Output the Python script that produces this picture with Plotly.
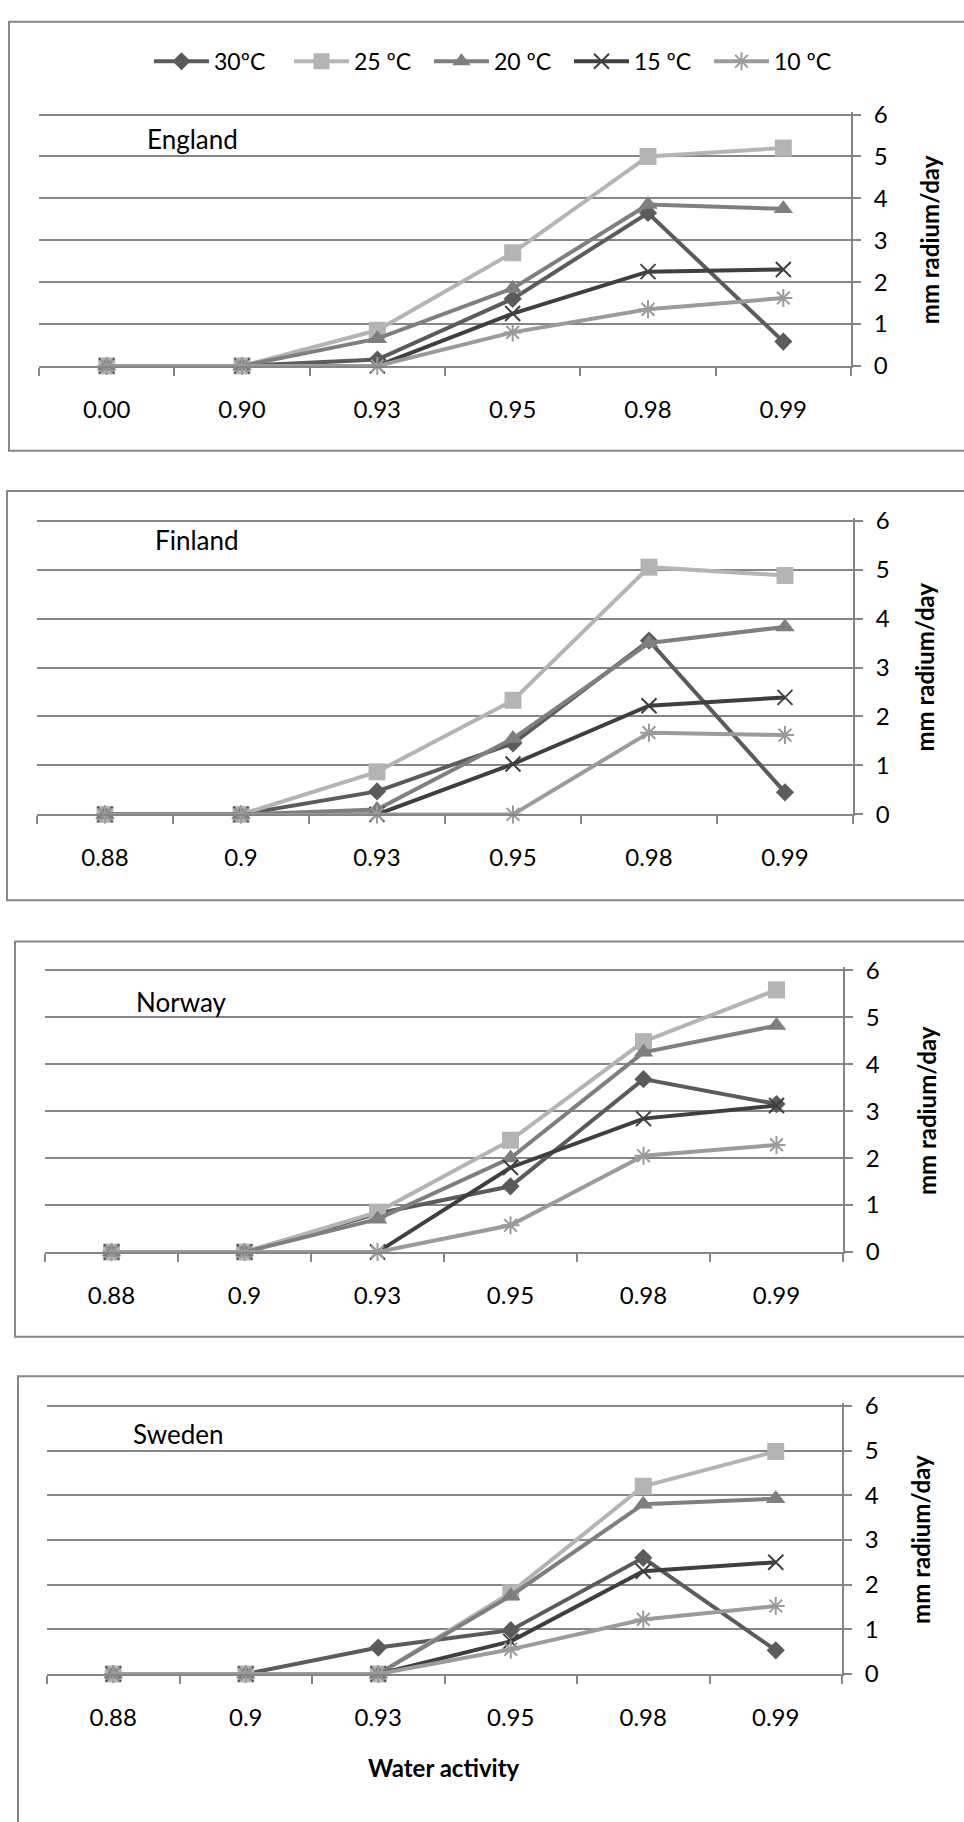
import plotly.graph_objects as go

W, H = 964, 1822

# ---------------- data ----------------
cats_england = ["0.00", "0.90", "0.93", "0.95", "0.98", "0.99"]
cats_other = ["0.88", "0.9", "0.93", "0.95", "0.98", "0.99"]

series_names = ["30ºC", "25 ºC", "20 ºC", "15 ºC", "10 ºC"]
y_ticks = [0, 1, 2, 3, 4, 5, 6]

england_30 = [0, 0, 0.15, 1.6, 3.65, 0.58]
england_25 = [0, 0, 0.85, 2.7, 5.0, 5.2]
england_20 = [0, 0, 0.65, 1.85, 3.85, 3.75]
england_15 = [0, 0, 0, 1.25, 2.25, 2.3]
england_10 = [0, 0, 0, 0.8, 1.35, 1.62]

finland_30 = [0, 0, 0.47, 1.45, 3.55, 0.45]
finland_25 = [0, 0, 0.87, 2.33, 5.05, 4.88]
finland_20 = [0, 0, 0.1, 1.55, 3.5, 3.83]
finland_15 = [0, 0, 0, 1.03, 2.22, 2.39]
finland_10 = [0, 0, 0, 0, 1.67, 1.62]

norway_30 = [0, 0, 0.82, 1.4, 3.68, 3.15]
norway_25 = [0, 0, 0.85, 2.38, 4.48, 5.58]
norway_20 = [0, 0, 0.7, 2.0, 4.25, 4.82]
norway_15 = [0, 0, 0, 1.8, 2.84, 3.12]
norway_10 = [0, 0, 0, 0.57, 2.05, 2.28]

sweden_30 = [0, 0, 0.59, 0.98, 2.6, 0.53]
sweden_25 = [0, 0, 0, 1.82, 4.2, 4.98]
sweden_20 = [0, 0, 0, 1.75, 3.8, 3.92]
sweden_15 = [0, 0, 0, 0.73, 2.3, 2.5]
sweden_10 = [0, 0, 0, 0.55, 1.22, 1.52]

country_names = ["England", "Finland", "Norway", "Sweden"]
y_title = "mm radium/day"
x_title = "Water activity"

# ---------------- styles ----------------
FONT = "Lato, 'Open Sans', 'DejaVu Sans', sans-serif"
GRID = "#868686"
colors = ["#5b5b5b", "#b4b4b4", "#7f7f7f", "#3f3f3f", "#9b9b9b"]
markers = [
    dict(symbol="diamond", size=14),
    dict(symbol="square", size=17),
    dict(symbol="triangle-up", size=17),
    dict(symbol="x-thin", size=15, line=dict(width=2)),
    dict(symbol="asterisk", size=15, line=dict(width=2)),
]
Y_MAX = 6.06  # tiny headroom so the top gridline at 6 is drawn

# panel layout in pixels: plot area (x0, x1, y of value 6, y of value 0), border box, label position
panels = [
    dict(cats=cats_england,
         vals=[england_30, england_25, england_20, england_15, england_10],
         plot=(39, 851, 103, 358), box=(9, 990, 9, 444), label=(145, 128),
         ytitle_x=929),
    dict(cats=cats_other,
         vals=[finland_30, finland_25, finland_20, finland_15, finland_10],
         plot=(37, 853, 515, 813), box=(7, 990, 485, 900), label=(153, 535),
         ytitle_x=925),
    dict(cats=cats_other,
         vals=[norway_30, norway_25, norway_20, norway_15, norway_10],
         plot=(45, 843, 971, 1257), box=(15, 990, 942, 1343), label=(134, 1003),
         ytitle_x=926),
    dict(cats=cats_other,
         vals=[sweden_30, sweden_25, sweden_20, sweden_15, sweden_10],
         plot=(47, 842, 1413, 1685), box=(18, 990, 1383, 1860), label=(131, 1442),
         ytitle_x=921),
]


def px_x(v):
    return v / W


def px_y(v):
    return 1 - v / H


fig = go.Figure()
layout = dict(
    width=W, height=H,
    margin=dict(l=0, r=0, t=0, b=0),
    paper_bgcolor="white", plot_bgcolor="rgba(0,0,0,0)",
    font=dict(family=FONT, color="#000000", size=24),
    showlegend=True,
    legend=dict(orientation="h", x=px_x(149), xanchor="left",
                y=px_y(49), yanchor="middle",
                font=dict(size=23, family=FONT, color="#000"),
                itemwidth=55, entrywidth=70, entrywidthmode="pixels",
                bgcolor="rgba(0,0,0,0)", traceorder="normal"),
)
shapes = []
annotations = []

for i, p in enumerate(panels):
    sfx = "" if i == 0 else str(i + 1)
    xa, ya = "x" + sfx, "y" + sfx
    x0, x1, y6, y0 = p["plot"]
    ytop = y0 - (y0 - y6) * Y_MAX / 6.0
    for s, name in enumerate(series_names):
        m = dict(markers[s])
        m["color"] = colors[s]
        if "line" in m:
            m["line"] = dict(m["line"], color=colors[s])
        fig.add_trace(go.Scatter(
            x=p["cats"], y=p["vals"][s], name=name, mode="lines+markers",
            xaxis=xa, yaxis=ya, showlegend=(i == 0), legendgroup=name,
            line=dict(color=colors[s], width=4), marker=m,
            cliponaxis=False, hoverinfo="x+y+name"))
    layout["xaxis" + sfx] = dict(
        domain=[px_x(x0), px_x(x1)], anchor=ya, type="category",
        categoryorder="array", categoryarray=p["cats"],
        range=[-0.5, 5.5], showgrid=False, zeroline=False,
        showline=True, linecolor=GRID, linewidth=2,
        ticks="outside", tickson="boundaries", ticklen=8, tickwidth=1.5,
        tickcolor=GRID, tickfont=dict(size=24, family=FONT, color="#000"),
        ticklabelstandoff=21, fixedrange=True)
    layout["yaxis" + sfx] = dict(
        domain=[px_y(y0), px_y(ytop)], anchor=xa, side="right",
        range=[0, Y_MAX], tickmode="array", tickvals=y_ticks,
        ticktext=[str(t) for t in y_ticks],
        showgrid=True, gridcolor=GRID, gridwidth=2, zeroline=False,
        showline=True, linecolor=GRID, linewidth=2,
        ticks="outside", ticklen=8, tickwidth=1.5, tickcolor=GRID,
        tickfont=dict(size=24, family=FONT, color="#000"),
        ticklabelstandoff=8, fixedrange=True)
    bx0, bx1, by0, by1 = p["box"]
    shapes.append(dict(type="rect", xref="paper", yref="paper",
                       x0=px_x(bx0), x1=px_x(bx1), y0=px_y(by1), y1=px_y(by0),
                       line=dict(color=GRID, width=2), fillcolor="rgba(0,0,0,0)",
                       layer="below"))
    lx, ly = p["label"]
    annotations.append(dict(text=country_names[i], xref="paper", yref="paper",
                            x=px_x(lx), y=px_y(ly), xanchor="left", yanchor="middle",
                            showarrow=False, font=dict(size=26, family=FONT, color="#000")))
    annotations.append(dict(text="<b>" + y_title + "</b>", xref="paper", yref="paper",
                            x=px_x(p["ytitle_x"]), y=px_y((y6 + y0) / 2),
                            xanchor="center", yanchor="middle", textangle=-90,
                            showarrow=False, font=dict(size=24, family=FONT, color="#000")))

annotations.append(dict(text="<b>" + x_title + "</b>", xref="paper", yref="paper",
                        x=px_x(444), y=px_y(1780), xanchor="center", yanchor="middle",
                        showarrow=False, font=dict(size=24, family=FONT, color="#000")))

layout["shapes"] = shapes
layout["annotations"] = annotations
fig.update_layout(**layout)
fig.write_html(
    "out.html",
    config={"displayModeBar": False},
    post_script="document.body.style.margin='0px';document.body.style.padding='0px';",
)
